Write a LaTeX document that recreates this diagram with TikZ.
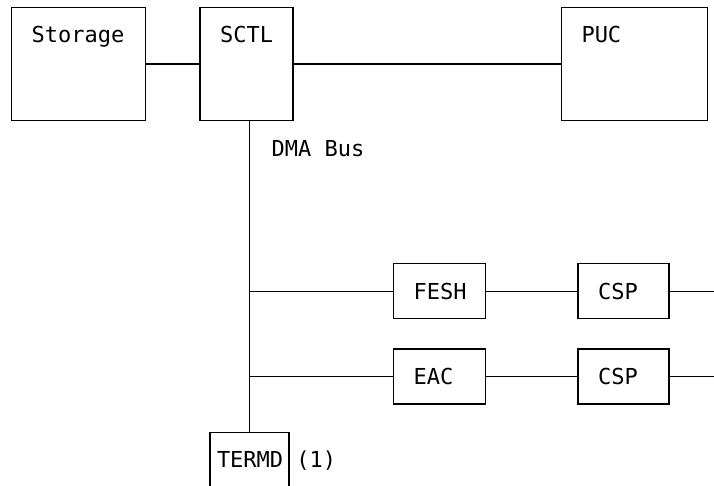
\documentclass[tikz,border=0pt]{standalone}
\usepackage{fontspec}
\setmonofont{DejaVu Sans Mono}
\usetikzlibrary{positioning}

\begin{document}
\begin{tikzpicture}[x=1pt, y=-1pt, line width=1.4pt,
  font=\ttfamily\fontsize{22pt}{26pt}\selectfont,
  bigbox/.style={draw, align=left, text width=#1, inner xsep=20pt, inner ysep=8pt, text height=27pt, text depth=70pt},
  smallbox/.style={draw, align=left, text width=#1, inner xsep=20pt, inner ysep=0pt, text height=16pt, text depth=0pt, minimum height=55pt},
  termbox/.style={draw, align=left, text width=#1, inner xsep=7pt, inner ysep=19pt, text height=16pt, text depth=30pt}]
\useasboundingbox (0,0) rectangle (714,486);
\clip (0,0) rectangle (714,486);
% top row
\node[bigbox=94pt, anchor=north west] (storage) at (11,7) {Storage};
\node[bigbox=53pt, right=53pt of storage] (sctl) {SCTL};
\node[bigbox=106pt, right=267pt of sctl] (puc) {PUC};
% attachments on the bus
\node[smallbox=52pt, anchor=north west] (fesh) at (393,263) {FESH};
\node[smallbox=51pt, right=91pt of fesh] (csp1) {CSP};
\node[smallbox=52pt, below=29pt of fesh] (eac) {EAC};
\node[smallbox=51pt, right=91pt of eac] (csp2) {CSP};
\node[termbox=65pt, anchor=north] (termd) at (249.5,432) {TERMD};
\node[anchor=base west, inner sep=6pt] (note) at (termd.base east) {(1)};
\node[anchor=base west, inner sep=0pt] (dmabus) at (271,157) {DMA Bus};
\coordinate (out1) at ([xshift=60pt]csp1.east);
\coordinate (out2) at ([xshift=60pt]csp2.east);
% connectors
\draw (storage) -- (sctl);
\draw (sctl) -- (puc);
\draw (sctl.south -| termd.north) -- (termd.north);
\draw (fesh.west -| termd.north) -- (fesh);
\draw (eac.west -| termd.north) -- (eac);
\draw (fesh) -- (csp1);
\draw (eac) -- (csp2);
\draw (csp1) -- (out1);
\draw (csp2) -- (out2);
\end{tikzpicture}
\end{document}
